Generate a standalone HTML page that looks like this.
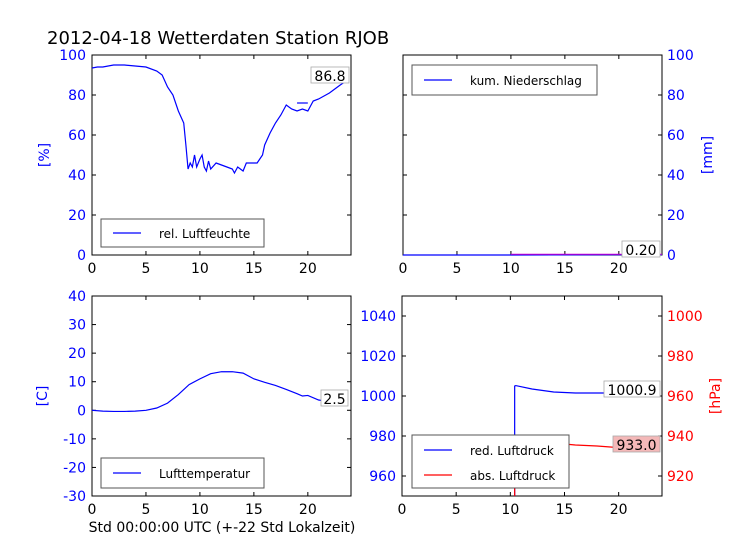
<!DOCTYPE html>
<html><head><meta charset="utf-8"><style>
html,body{margin:0;padding:0;background:#fff}
svg{display:block;font-family:"DejaVu Sans","Liberation Sans",sans-serif}
</style></head><body>
<svg id="c" width="736" height="552" viewBox="0 0 736 552" xmlns="http://www.w3.org/2000/svg">
<rect width="736" height="552" fill="#fff"/>
<text x="47" y="44" font-size="18">2012-04-18 Wetterdaten Station RJOB</text>
<text x="222" y="532" font-size="14" text-anchor="middle">Std 00:00:00 UTC (+-22 Std Lokalzeit)</text>
<g id="g"></g>
</svg>
<script>
const humHours=[0,0.5,1,2,3,4,5,6,6.5,7,7.5,8,8.5,8.7,8.9,9.1,9.3,9.5,9.7,10,10.2,10.4,10.6,10.8,11,11.5,12,12.5,13,13.2,13.5,14,14.3,14.8,15.3,15.8,16,16.5,17,17.5,18,18.5,19,19.5,20,20.5,21,22,23,23.5];
const humValues=[93.5,94,94,95,95,94.5,94,92,90,84,80,72,66,55,43,46,44,50,44,48,50,44,42,47,43,46,45,44,43,41,44,42,46,46,46,50,55,61,66,70,75,73,72,73,72,77,78,81,85,86.8];
const rainHours=[0,10,24];
const rainValues=[0,0,0.2];
const tempHours=[0,1,2,3,4,5,6,7,8,9,10,11,12,13,14,15,16,17,18,19,19.5,20,21,22,23.5];
const tempValues=[0,-0.3,-0.4,-0.4,-0.3,0,0.8,2.5,5.5,9,11,12.8,13.5,13.5,13,11,9.8,8.7,7.3,5.8,5,5.2,3.6,3,2.5];
const redHours=[10.4,10.4,10.5,12,14,16,18,20,22,23.8];
const redValues=[950,1005,1005.2,1003.5,1002,1001.5,1001.5,1001.5,1001.2,1000.9];
const absHours=[10.4,10.4,10.5,12,14,15,16,18,20,22,23.8];
const absValues=[910,939,939.2,938.5,937,936,935.5,935,934.2,933.6,933.0];
const xTicks=[0,5,10,15,20];
const humTicks=[0,20,40,60,80,100];
const tempTicks=[-30,-20,-10,0,10,20,30,40];
const redTicks=[960,980,1000,1020,1040];
const absTicks=[920,940,960,980,1000];
const NS="http://www.w3.org/2000/svg";
const G=document.getElementById('g');
function mk(tag,attrs,parent){const e=document.createElementNS(NS,tag);for(const k in attrs)e.setAttribute(k,attrs[k]);(parent||G).appendChild(e);return e;}
function axes(x0,x1,y0,y1,xmin,xmax,ymin,ymax){return{sx:v=>x0+(v-xmin)/(xmax-xmin)*(x1-x0),sy:v=>y1-(v-ymin)/(ymax-ymin)*(y1-y0),x0,x1,y0,y1};}
function frame(a,name){const r=mk('rect',{x:a.x0,y:a.y0,width:a.x1-a.x0,height:a.y1-a.y0,fill:'none',stroke:'#000','stroke-width':1});


xTicks.forEach(t=>{const x=a.sx(t);mk('line',{x1:x,x2:x,y1:a.y1,y2:a.y1-4,stroke:'#000'});mk('line',{x1:x,x2:x,y1:a.y0,y2:a.y0+4,stroke:'#000'});
const tx=mk('text',{x:x,y:a.y1+18,'font-size':14,'text-anchor':'middle'});tx.textContent=t;

});}
function yticks(a,ticks,side,color,name){ticks.forEach(t=>{const y=a.sy(t);mk('line',{x1:a.x0,x2:a.x0+4,y1:y,y2:y,stroke:'#000'});mk('line',{x1:a.x1,x2:a.x1-4,y1:y,y2:y,stroke:'#000'});
const tx=mk('text',{x:side==='l'?a.x0-6:a.x1+5,y:y+5,'font-size':14,'text-anchor':side==='l'?'end':'start',fill:color});tx.textContent=t;

});}
function line(a,xs,ys,color,name){const p=mk('polyline',{points:xs.map((x,i)=>a.sx(x)+','+a.sy(ys[i])).join(' '),fill:'none',stroke:color,'stroke-width':1.2});

}
function ylabel(x,y,txt,color,name){const t=mk('text',{x:x,y:y,'font-size':14,fill:color,'text-anchor':'middle',transform:`rotate(-90 ${x} ${y})`});t.textContent=txt;

}
function legend(x,y,w,h,items,name){const g=mk('g',{});


mk('rect',{x:x,y:y,width:w,height:h,fill:'#fff',stroke:'#555','stroke-width':1},g);
items.forEach((it,i)=>{const yy=y+(items.length===1?h/2:15+i*25);mk('line',{x1:x+12,x2:x+40,y1:yy,y2:yy,stroke:it[1],'stroke-width':1.2},g);const t=mk('text',{x:x+58,y:yy+5,'font-size':12},g);t.textContent=it[0];});}
function annot(x,y,w,txt,bg,name){const g=mk('g',{});


mk('rect',{x:x,y:y,width:w,height:16,fill:bg,stroke:'#aaa','stroke-width':0.8},g);const t=mk('text',{x:x+w/2,y:y+14,'font-size':14,'text-anchor':'middle'},g);t.textContent=txt;}

const A=axes(92,351,55,255,0,24,0,100);
frame(A,'humidity-axes');yticks(A,humTicks,'l','#00f','humidity-y-tick');
line(A,humHours,humValues,'#00f','humidity-line');
mk('line',{x1:A.sx(19),x2:A.sx(20),y1:A.sy(76),y2:A.sy(76),stroke:'#00f','stroke-width':1.2});
ylabel(49,155,'[%]','#00f','humidity-y-title');
legend(101,219,163,28,[['rel. Luftfeuchte','#00f']],'humidity-legend');
annot(311,67,38,'86.8','#fff','humidity-last-value');

const B=axes(403,662,55,255,0,24,0,100);
frame(B,'rain-axes');yticks(B,humTicks,'r','#00f','rain-y-tick');
line(B,rainHours,rainValues,'#00f','rain-line');
mk('line',{x1:B.sx(10),x2:B.sx(24),y1:B.sy(0.4),y2:B.sy(0.4),stroke:'#c0c','stroke-width':1});
ylabel(712,155,'[mm]','#00f','rain-y-title');
legend(412,65,185,30,[['kum. Niederschlag','#00f']],'rain-legend');
annot(622,241,38,'0.20','#fff','rain-last-value');

const C=axes(92,351,296,496,0,24,-30,40);
frame(C,'temperature-axes');yticks(C,tempTicks,'l','#00f','temperature-y-tick');
line(C,tempHours,tempValues,'#00f','temperature-line');
ylabel(47,396,'[C]','#00f','temperature-y-title');
legend(101,458,163,30,[['Lufttemperatur','#00f']],'temperature-legend');
annot(321,390,27,'2.5','#fff','temperature-last-value');

const D=axes(402,662,296,496,0,24,950,1050);
const D2=axes(402,662,296,496,0,24,910,1010);
frame(D,'pressure-axes');yticks(D,redTicks,'l','#00f','red-pressure-y-tick');
absTicks.forEach(t=>{const y=D2.sy(t);const tx=mk('text',{x:D.x1+5,y:y+5,'font-size':14,fill:'#f00'});tx.textContent=t;

});
line(D,redHours,redValues,'#00f','red-pressure-line');
line(D2,absHours,absValues,'#f00','abs-pressure-line');
ylabel(720,396,'[hPa]','#f00','pressure-y-title');
legend(412,435,157,53,[['red. Luftdruck','#00f'],['abs. Luftdruck','#f00']],'pressure-legend');
annot(604,381,56,'1000.9','#fff','red-pressure-last-value');
annot(613,436,47,'933.0','#f4b8b8','abs-pressure-last-value');
</script>
</body></html>
